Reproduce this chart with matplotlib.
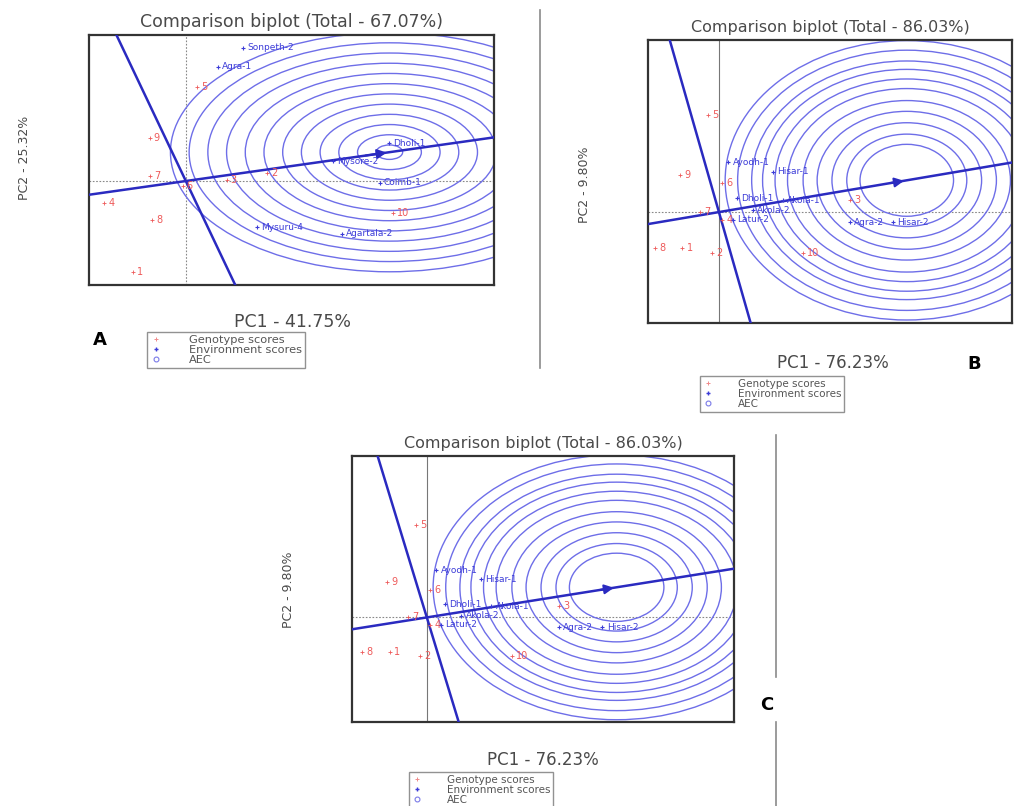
"""Three GGE comparison biplots (panels A, B, C) rebuilt with matplotlib."""

import numpy as np
import matplotlib

matplotlib.use("Agg")
import matplotlib.pyplot as plt
from matplotlib.lines import Line2D
from matplotlib.patches import Circle

plt.rcParams["font.family"] = ["DejaVu Sans"]

# ---- panel A : PC1 41.75 %, PC2 25.32 %
a_title = "Comparison biplot (Total - 67.07%)"
a_xlabel = "PC1 - 41.75%"
a_ylabel = "PC2 - 25.32%"
a_gen_names = ["1", "2", "3", "4", "5", "6", "7", "8", "9", "10"]
a_gen_pc1 = [-0.48, 0.74, 0.37, -0.74, 0.10, -0.03, -0.33, -0.31, -0.33, 1.88]
a_gen_pc2 = [-1.52, 0.13, 0.02, -0.37, 1.57, -0.08, 0.08, -0.65, 0.72, -0.53]
a_env_names = ["Sonpeth-2", "Agra-1", "Dholi-1", "Mysore-2", "Coimb-1", "Mysuru-4", "Agartala-2"]
a_env_pc1 = [0.52, 0.29, 1.85, 1.34, 1.76, 0.65, 1.42]
a_env_pc2 = [2.22, 1.90, 0.63, 0.33, -0.03, -0.77, -0.88]
a_ideal = [1.85, 0.48]
a_rings = [0.12, 0.29, 0.46, 0.63, 0.80, 0.97, 1.14, 1.31, 1.48, 1.65, 1.82, 1.99]

# ---- panels B and C : PC1 76.23 %, PC2 9.80 %
bc_title = "Comparison biplot (Total - 86.03%)"
bc_xlabel = "PC1 - 76.23%"
bc_ylabel = "PC2 - 9.80%"
bc_gen_names = ["1", "2", "3", "4", "5", "6", "7", "8", "9", "10"]
bc_gen_pc1 = [-0.47, -0.09, 1.68, 0.04, -0.14, 0.04, -0.24, -0.82, -0.50, 1.08]
bc_gen_pc2 = [-0.60, -0.68, 0.20, -0.13, 1.62, 0.48, 0.00, -0.60, 0.62, -0.68]
bc_env_names = ["Ayodh-1", "Hisar-1", "Dholi-1", "Akola-1", "Latur-2", "Akola-2", "Agra-2", "Hisar-2"]
bc_env_pc1 = [0.12, 0.69, 0.23, 0.82, 0.18, 0.44, 1.68, 2.23]
bc_env_pc2 = [0.83, 0.67, 0.23, 0.20, -0.13, 0.03, -0.17, -0.17]
bc_ideal = [2.41, 0.53]
bc_rings = [0.60, 0.77, 0.96, 1.15, 1.33, 1.53, 1.69, 1.85, 1.99, 2.17, 2.33]

W, H = 1014, 806
GEN_COL = "#ee5a5a"
ENV_COL = "#3c3cd8"
RING_COL = "#6e6ee8"
AEC_COL = "#2a2ac0"
TXT_COL = "#4a4a4a"


def px_axes(fig, left, top, right, bottom):
    return fig.add_axes([left / W, 1 - bottom / H, (right - left) / W, (bottom - top) / H])


def draw_biplot(ax, xlim, ylim, gen, env, ideal, rings, title, title_size, solid_vline):
    ax.set_xlim(*xlim)
    ax.set_ylim(*ylim)
    ax.set_xticks([])
    ax.set_yticks([])
    for sp in ax.spines.values():
        sp.set_color("#333333")
        sp.set_linewidth(1.6)
    ax.set_title(title, fontsize=title_size, color=TXT_COL, pad=6)

    # reference axes through the origin
    ax.axhline(0, color="#888888", lw=0.8, ls=(0, (1.5, 1.5)), zorder=1)
    if solid_vline:
        ax.axvline(0, color="#777777", lw=0.8, zorder=1)
    else:
        ax.axvline(0, color="#888888", lw=0.8, ls=(0, (1.5, 1.5)), zorder=1)

    # concentric rings round the ideal genotype
    for r in rings:
        ax.add_patch(Circle(ideal, r, fill=False, ec=RING_COL, lw=1.0, zorder=2))

    # AEC abscissa and ordinate
    d = np.array(ideal) / np.linalg.norm(ideal)
    t = np.array([-20, 20])
    ax.plot(t * d[0], t * d[1], color=AEC_COL, lw=1.8, zorder=3)
    ax.plot(-t * d[1], t * d[0], color=AEC_COL, lw=1.8, zorder=3)
    ax.annotate("", xy=ideal, xytext=(ideal[0] - 0.25 * d[0], ideal[1] - 0.25 * d[1]),
                arrowprops=dict(arrowstyle="-|>", color=AEC_COL, lw=1.5, mutation_scale=14),
                zorder=4)

    names, xs, ys = gen
    ax.scatter(xs, ys, marker="+", s=10, color=GEN_COL, lw=0.6, zorder=5)
    for n, x, y in zip(names, xs, ys):
        ax.annotate(n, (x, y), xytext=(3, 0), textcoords="offset points",
                    fontsize=7, color=GEN_COL, va="center", zorder=5)

    names, xs, ys = env
    ax.scatter(xs, ys, marker="+", s=10, color=ENV_COL, lw=0.8, zorder=5)
    for n, x, y in zip(names, xs, ys):
        ax.annotate(n, (x, y), xytext=(3, 0), textcoords="offset points",
                    fontsize=6.5, color=ENV_COL, va="center", zorder=5)


def add_legend(fig, cx, cy, size):
    handles = [
        Line2D([], [], ls="", marker="+", ms=3.5, color="#f08a8a", mew=0.7),
        Line2D([], [], ls="", marker="+", ms=3.5, color=ENV_COL, mew=1.0),
        Line2D([], [], ls="", marker="o", ms=3.5, mfc="none", color="#7a7ae8", mew=0.8),
    ]
    labels = ["Genotype scores", "Environment scores", "AEC"]
    leg = fig.legend(handles, labels, loc="center", bbox_to_anchor=(cx / W, 1 - cy / H),
                     fontsize=size, frameon=True, fancybox=False, handlelength=1,
                     handletextpad=2.4, borderpad=0.25, labelspacing=0.0,
                     borderaxespad=0)
    leg.get_frame().set_edgecolor("#777777")
    leg.get_frame().set_linewidth(1.0)
    for txt in leg.get_texts():
        txt.set_color("#555555")


fig = plt.figure(figsize=(W / 100, H / 100), dpi=100)

ax_a = px_axes(fig, 89, 35, 494, 285)
draw_biplot(ax_a, (-0.88, 2.80), (-1.73, 2.43),
            (a_gen_names, a_gen_pc1, a_gen_pc2),
            (a_env_names, a_env_pc1, a_env_pc2),
            a_ideal, a_rings, a_title, 12.5, solid_vline=False)

ax_b = px_axes(fig, 648, 40, 1012, 323)
draw_biplot(ax_b, (-0.91, 3.76), (-1.85, 2.87),
            (bc_gen_names, bc_gen_pc1, bc_gen_pc2),
            (bc_env_names, bc_env_pc1, bc_env_pc2),
            bc_ideal, bc_rings, bc_title, 11.5, solid_vline=True)

ax_c = px_axes(fig, 352, 456, 734, 722)
draw_biplot(ax_c, (-0.95, 3.90), (-1.84, 2.84),
            (bc_gen_names, bc_gen_pc1, bc_gen_pc2),
            (bc_env_names, bc_env_pc1, bc_env_pc2),
            bc_ideal, bc_rings, bc_title, 11.5, solid_vline=True)

# axis titles placed outside the frames, as in the original figure
for x, y, s, fs in [(292, 322, a_xlabel, 12.5), (833, 363, bc_xlabel, 12), (543, 760, bc_xlabel, 12)]:
    fig.text(x / W, 1 - y / H, s, ha="center", va="center", fontsize=fs, color=TXT_COL)
for x, y, s in [(25, 158, a_ylabel), (585, 185, bc_ylabel), (288, 590, bc_ylabel)]:
    fig.text(x / W, 1 - y / H, s, ha="center", va="center", rotation=90,
             fontsize=9, color=TXT_COL)

add_legend(fig, 226, 350, 8.2)
add_legend(fig, 772, 394, 7.5)
add_legend(fig, 481, 790, 7.5)

# panel letters
for x, y, s in [(100, 340, "A"), (974, 364, "B"), (767, 705, "C")]:
    fig.text(x / W, 1 - y / H, s, ha="center", va="center", fontsize=13,
             fontweight="black", color="black")

# thin separators between panels
sep = dict(color="#8a8a8a", lw=1.2)
fig.add_artist(Line2D([540 / W, 540 / W], [1 - 10 / H, 1 - 368 / H], **sep))
fig.add_artist(Line2D([776 / W, 776 / W], [1 - 435 / H, 1 - 677 / H], **sep))
fig.add_artist(Line2D([776 / W, 776 / W], [1 - 722 / H, 1 - 806 / H], **sep))

fig.savefig("out.png", dpi=100, facecolor="white")
